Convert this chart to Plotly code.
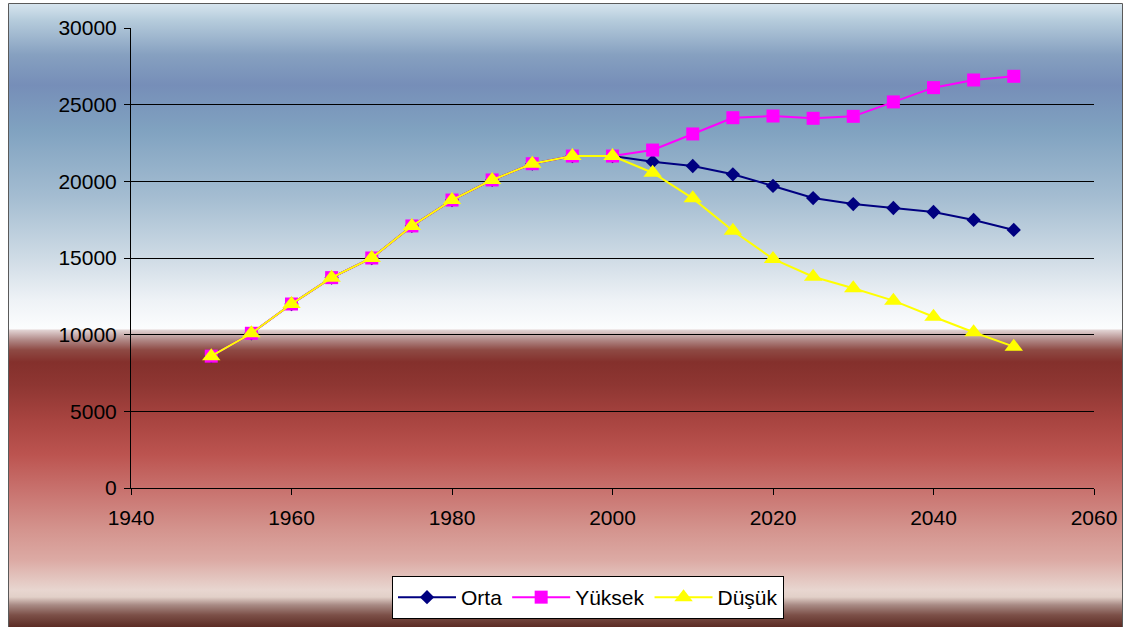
import base64
import plotly.graph_objects as go

# Population projections (thousands) by scenario
years = [1950, 1955, 1960, 1965, 1970, 1975, 1980, 1985, 1990, 1995, 2000,
         2005, 2010, 2015, 2020, 2025, 2030, 2035, 2040, 2045, 2050]
history = [8600, 10090, 12000, 13720, 15000, 17090, 18780, 20090, 21150, 21650, 21650]
orta = history + [21280, 21000, 20460, 19700, 18910, 18520, 18260, 18000, 17480, 16830]
yuksek = history + [22040, 23090, 24150, 24260, 24110, 24240, 25180, 26110, 26610, 26850]
dusuk = history + [20560, 18890, 16780, 14940, 13780, 13030, 12220, 11170, 10160, 9220]

series_names = ["Orta", "Yüksek", "Düşük"]
series_values = [orta, yuksek, dusuk]
series_colors = ["#000080", "#ff00ff", "#ffff00"]
series_symbols = ["diamond", "square", "triangle-up"]
series_sizes = [11, 13, 16]

x_ticks = [1940, 1960, 1980, 2000, 2020, 2040, 2060]
y_ticks = [0, 5000, 10000, 15000, 20000, 25000, 30000]

W, H = 1128, 627
L, R, T, B = 131, 1094, 28, 488  # plot area in pixels

def px_x(p):
    return (p - L) / (R - L)

def px_y(p):
    return (B - p) / (B - T)

# Chart-area background: vertical gradient, (pixel row, colour)
BG_LEFT, BG_RIGHT, BG_TOP, BG_BOTTOM = 9, 1123, 4, 627
stops = [
    (4, "#d6e4ee"), (20, "#b6ccdc"), (55, "#86a0c0"), (85, "#768eb8"),
    (130, "#80a2c0"), (200, "#a6bed2"), (260, "#d0dce6"), (300, "#eef2f6"),
    (329, "#fcfdfe"), (330, "#e2d4d4"), (340, "#b08886"), (350, "#8e4a44"),
    (362, "#84302c"), (385, "#8e3632"), (420, "#a84440"), (455, "#bc5450"),
    (490, "#c8726e"), (530, "#d4948e"), (560, "#dcaaa4"), (590, "#e8d6d0"),
    (597, "#e2d0c8"), (605, "#a88a84"), (615, "#7c5048"), (627, "#5c2c24"),
]
bw, bh = BG_RIGHT - BG_LEFT, BG_BOTTOM - BG_TOP
stop_tags = "".join(
    '<stop offset="%.5f" stop-color="%s"/>' % ((p - BG_TOP) / bh, c) for p, c in stops
)
svg = (
    '<svg xmlns="http://www.w3.org/2000/svg" width="%d" height="%d" '
    'viewBox="0 0 %d %d" preserveAspectRatio="none">'
    '<defs><linearGradient id="g" x1="0" y1="0" x2="0" y2="1">%s</linearGradient></defs>'
    '<rect x="0" y="0" width="%d" height="%d" fill="url(#g)"/></svg>'
) % (bw, bh, bw, bh, stop_tags, bw, bh)
bg_src = "data:image/svg+xml;base64," + base64.b64encode(svg.encode()).decode()

fig = go.Figure()
for name, vals, col, sym, sz in zip(series_names, series_values, series_colors,
                                    series_symbols, series_sizes):
    fig.add_trace(go.Scatter(
        x=years, y=vals, name=name, mode="lines+markers",
        line=dict(color=col, width=2),
        marker=dict(symbol=sym, size=sz, color=col, line=dict(width=0)),
    ))

font = dict(family="Liberation Sans, Arial, sans-serif", size=21, color="#000000")

fig.update_layout(
    width=W, height=H,
    margin=dict(l=L, r=W - R, t=T, b=H - B, pad=0, autoexpand=False),
    paper_bgcolor="#ffffff", plot_bgcolor="rgba(0,0,0,0)",
    font=font,
    images=[dict(
        source=bg_src, xref="paper", yref="paper",
        x=px_x(BG_LEFT), y=px_y(BG_TOP), xanchor="left", yanchor="top",
        sizex=bw / (R - L), sizey=bh / (B - T), sizing="stretch", layer="below",
    )],
    shapes=[dict(
        type="rect", xref="paper", yref="paper", layer="below",
        x0=px_x(8.5), x1=px_x(1122.5), y0=px_y(640), y1=px_y(3.5),
        fillcolor="rgba(0,0,0,0)", line=dict(color="#5a5a5a", width=1),
    )],
    showlegend=True,
    legend=dict(
        orientation="h", xref="container", yref="container",
        x=392 / W, y=1 - 576 / H, xanchor="left", yanchor="top",
        bgcolor="#ffffff", bordercolor="#000000", borderwidth=1,
        font=font, itemwidth=58, tracegroupgap=0,
    ),
    xaxis=dict(
        range=[1940, 2060], tickvals=x_ticks, ticktext=[str(v) for v in x_ticks],
        showgrid=False, zeroline=False, showline=True, linecolor="#000000", linewidth=1,
        ticks="outside", ticklen=6, tickcolor="#000000", ticklabelstandoff=5,
        automargin=False,
    ),
    yaxis=dict(
        range=[0, 30000], tickvals=y_ticks, ticktext=[str(v) for v in y_ticks],
        showgrid=True, gridcolor="#000000", gridwidth=1, zeroline=False,
        showline=True, linecolor="#000000", linewidth=1,
        ticks="outside", ticklen=6, tickcolor="#000000", ticklabelstandoff=3,
        automargin=False,
    ),
)

fig.write_html("out.html")
